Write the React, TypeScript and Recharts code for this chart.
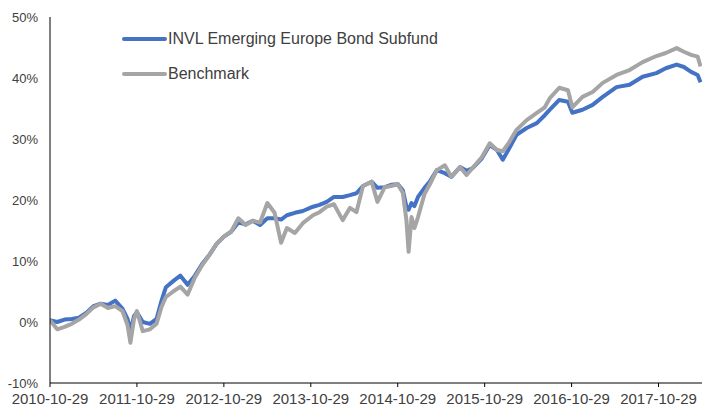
import { LineChart, Line, XAxis, YAxis } from "recharts";

// months since 2010-10-29
const months = [
  0, 1, 2, 3, 4, 5, 6, 7, 8, 9, 10, 10.7, 11.1, 11.6, 12, 12.8, 13.8, 14.7, 15.4, 16,
  17, 18, 19, 20, 21, 22, 23, 24, 25, 26, 27, 28, 29, 30, 31, 31.9, 32.7, 33.8, 34.9, 36.3,
  37.2, 38.2, 39.2, 40.4, 41.4, 42.3, 43.2, 44.4, 45.2, 46.2, 47.1, 48, 48.7, 49.2, 49.5, 49.9,
  50.3, 50.8, 51.7, 52.4, 53.4, 54.5, 55.4, 56.6, 57.5, 58.3, 59.6, 60.7, 61.7, 62.5, 63.4,
  64.4, 65.8, 67.2, 68.3, 69, 70.3, 71.5, 72.1, 73.5, 74.9, 76.3, 78.2, 80, 81.8, 83.7, 85,
  86.5, 87.5, 88.5, 89.4, 89.8,
];

const fund = [
  0.3, 0.0, 0.4, 0.5, 0.7, 1.5, 2.6, 3.0, 2.8, 3.5, 2.2, 0.5, -1.5, 1.0, 1.6, 0.0, -0.3, 0.5, 3.5, 5.7,
  6.7, 7.6, 6.1, 7.6, 9.5, 11.0, 12.8, 14.0, 14.8, 16.3, 16.0, 16.6, 15.9, 17.0, 17.0, 16.8, 17.5, 17.9, 18.2, 18.9,
  19.2, 19.7, 20.5, 20.5, 20.8, 21.1, 22.3, 23.0, 22.0, 22.1, 22.5, 22.6, 21.6, 18.9, 18.4, 19.5,
  19.0, 20.5, 22.0, 23.0, 24.9, 24.4, 23.8, 25.4, 24.8, 25.2, 26.8, 29.0, 28.2, 26.6, 28.5,
  30.7, 31.8, 32.6, 33.9, 34.8, 36.4, 36.1, 34.3, 34.8, 35.6, 36.9, 38.5, 38.9, 40.2, 40.8, 41.6,
  42.2, 41.8, 41.0, 40.5, 39.3,
];

const bench = [
  0.3, -1.2, -0.8, -0.3, 0.4, 1.3, 2.4, 3.0, 2.3, 2.6, 1.8, -0.5, -3.4, 0.5, 1.8, -1.5, -1.2, -0.3, 2.5, 4.1,
  5.0, 5.8, 4.5, 7.3, 9.3, 11.0, 12.8, 14.0, 14.8, 17.0, 15.9, 16.6, 16.3, 19.5, 17.9, 13.0, 15.4, 14.6, 16.2, 17.5,
  18.0, 18.9, 19.3, 16.7, 18.7, 18.0, 22.3, 23.0, 19.7, 22.1, 22.3, 22.6, 21.2, 16.7, 11.5, 17.2,
  15.4, 17.2, 21.0, 22.5, 24.9, 25.7, 23.8, 25.4, 24.1, 25.2, 27.0, 29.3, 28.2, 28.0, 29.5,
  31.5, 33.1, 34.3, 35.2, 36.7, 38.4, 38.0, 35.2, 36.9, 37.7, 39.2, 40.5, 41.3, 42.6, 43.6, 44.1,
  44.9, 44.3, 43.8, 43.5, 41.9,
];

const tickMonths = [0, 12, 24, 36, 48, 60, 72, 84];
const tickLabels = [
  "2010-10-29", "2011-10-29", "2012-10-29", "2013-10-29",
  "2014-10-29", "2015-10-29", "2016-10-29", "2017-10-29",
];
const yTicks = [-10, 0, 10, 20, 30, 40, 50];

const seriesNames = ["INVL Emerging Europe Bond Subfund", "Benchmark"];
const seriesColors = ["#4472C4", "#A5A5A5"];

const data = months.map((m, i) => ({ m, fund: fund[i], bench: bench[i] }));

const FONT = "'Liberation Sans', Arial, sans-serif";

function LegendBox() {
  return (
    <div
      style={{
        position: "absolute",
        left: 120,
        top: 21,
        fontFamily: FONT,
        fontSize: 16,
        color: "#404040",
      }}
    >
      {seriesNames.map((name, i) => (
        <div key={name} style={{ display: "flex", alignItems: "center", height: 35 }}>
          <svg width={48} height={8}>
            <line x1={4} y1={4} x2={45} y2={4} stroke={seriesColors[i]} strokeWidth={4} strokeLinecap="round" />
          </svg>
          <span>{name}</span>
        </div>
      ))}
    </div>
  );
}

export default function App() {
  return (
    <div style={{ position: "absolute", left: 0, top: 0, width: 702, height: 406, background: "#fff" }}>
      <LineChart width={702} height={406} data={data} margin={{ top: 17, right: 0, bottom: 0, left: 0 }}>
        <XAxis
          dataKey="m"
          type="number"
          domain={[0, 90]}
          ticks={tickMonths}
          tickFormatter={(v: number) => tickLabels[tickMonths.indexOf(v)]}
          height={23}
          stroke="#000"
          tickSize={4}
          tickMargin={6}
          interval={0}
          tick={{ fill: "#404040", fontSize: 15, fontFamily: FONT }}
          allowDataOverflow
        />
        <YAxis
          domain={[-10, 50]}
          ticks={yTicks}
          tickFormatter={(v: number) => `${v}%`}
          width={50}
          stroke="#000"
          tickLine={false}
          tickSize={0}
          tickMargin={12}
          interval={0}
          tick={{ fill: "#404040", fontSize: 13, fontFamily: FONT }}
        />
        <Line
          dataKey="fund"
          name={seriesNames[0]}
          stroke={seriesColors[0]}
          strokeWidth={4}
          dot={false}
          isAnimationActive={false}
          strokeLinejoin="round"
        />
        <Line
          dataKey="bench"
          name={seriesNames[1]}
          stroke={seriesColors[1]}
          strokeWidth={4}
          dot={false}
          isAnimationActive={false}
          strokeLinejoin="round"
        />
      </LineChart>
      <LegendBox />
    </div>
  );
}
